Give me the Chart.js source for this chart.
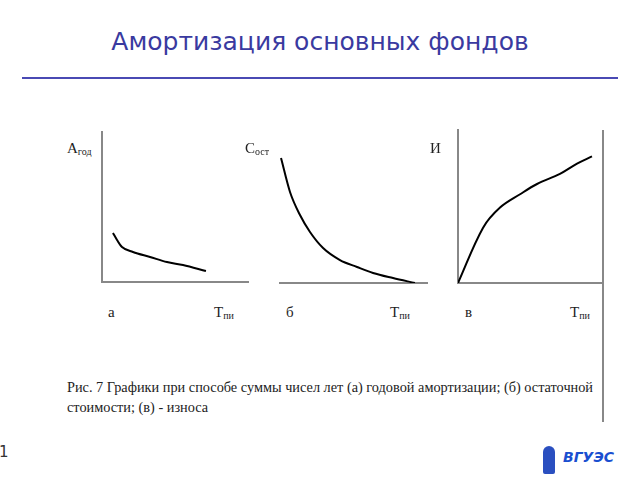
<!DOCTYPE html>
<html>
<head>
<meta charset="utf-8">
<script src="https://cdn.jsdelivr.net/npm/chart.js@4/dist/chart.umd.min.js"></script>
<style>
  body { margin:0; background:#fff; width:640px; height:480px; position:relative; overflow:hidden; }
  .abs { position:absolute; }
  #title { left:0; width:640px; top:27px; text-align:center; font-family:"DejaVu Sans"; font-size:25px; color:#3a3aa0; }
  #rule { left:22px; top:77px; width:596px; height:2px; background:#4a4ab4; }
  .box { position:absolute; }
  .lbl { position:absolute; font-family:"Liberation Serif", serif; font-size:15px; color:#222; }
  .lbl sub { font-size:10px; vertical-align:-2px; }
  #caption { left:67px; top:377px; font-family:"Liberation Serif", serif; font-size:14.3px; color:#222; line-height:20px; }
  #vline { left:602px; top:130px; width:2px; height:292px; background:#888; }
  #num { left:-1px; top:443px; font-family:"DejaVu Sans"; font-size:15px; color:#333; }
  #logo { left:563px; top:449px; font-family:"DejaVu Sans"; font-style:italic; font-weight:bold; font-size:14px; color:#1a4fd0; }
  #logomark { left:543px; top:446px; width:12px; height:28px; border-radius:6px 6px 2px 2px; background:#2a4fc0; }
</style>
</head>
<body>
<div id="title" class="abs">Амортизация основных фондов</div>
<div id="rule" class="abs"></div>

<div class="box" style="left:100px; top:130px; width:150px; height:154px;"><canvas id="chartA"></canvas></div>
<div class="box" style="left:278px; top:131px; width:151px; height:154px;"><canvas id="chartB"></canvas></div>
<div class="box" style="left:456px; top:128px; width:149px; height:157px;"><canvas id="chartC"></canvas></div>

<div class="lbl" style="left:67px; top:140px;">A<sub>год</sub></div>
<div class="lbl" style="left:245px; top:140px;">C<sub>ост</sub></div>
<div class="lbl" style="left:430px; top:140px;">И</div>
<div class="lbl" style="left:108px; top:304px;">а</div>
<div class="lbl" style="left:214px; top:304px;">T<sub>пи</sub></div>
<div class="lbl" style="left:286px; top:304px;">б</div>
<div class="lbl" style="left:390px; top:304px;">T<sub>пи</sub></div>
<div class="lbl" style="left:465px; top:304px;">в</div>
<div class="lbl" style="left:570px; top:304px;">T<sub>пи</sub></div>

<div id="vline" class="abs"></div>
<div id="caption" class="abs">Рис. 7 Графики при способе суммы чисел лет (а) годовой амортизации; (б) остаточной<br>стоимости; (в) - износа</div>
<div id="num" class="abs">1</div>
<div id="logomark" class="abs"></div>
<div id="logo" class="abs">ВГУЭС</div>

<script>
// (а) annual depreciation
const aX = [0.75, 1.03, 1.37, 2.12, 3.29, 4.45, 5.55, 7.12];
const aY = [3.27, 2.8, 2.33, 2.0, 1.67, 1.33, 1.13, 0.73];
// (б) residual value
const bX = [0.07, 0.68, 1.36, 2.04, 2.93, 4.08, 5.24, 6.33, 7.69, 9.18];
const bY = [8.33, 6.07, 4.53, 3.4, 2.33, 1.53, 1.07, 0.67, 0.33, 0.0];
// (в) wear
const cX = [0.0, 1.72, 2.9, 4.28, 5.45, 7.03, 8.21, 9.24];
const cY = [0.0, 3.6, 4.93, 5.8, 6.47, 7.13, 7.8, 8.27];

function pts(xs, ys) {
  return xs.map((x, i) => ({x: x, y: ys[i]}));
}

function makeChart(id, xs, ys, showY, tension) {
  const axis = (show, horiz) => ({
    type: 'linear', min: 0, max: 10,
    ticks: {display: false},
    grid: {display: false},
    border: {display: show, color: '#888', width: 2},
    // no room needed for ticks, so the plot fills the box
    afterFit: (s) => { if (horiz) s.height = 0; else s.width = 0; }
  });
  const ds = {
    data: pts(xs, ys),
    borderColor: '#000',
    borderWidth: 2,
    pointRadius: 0,
    fill: false
  };
  if (tension) ds.tension = tension; else ds.cubicInterpolationMode = 'monotone';
  return new Chart(document.getElementById(id), {
    type: 'line',
    data: {datasets: [ds]},
    options: {
      responsive: true,
      maintainAspectRatio: false,
      animation: false,
      layout: {padding: 2},
      plugins: {legend: {display: false}, tooltip: {enabled: false}},
      scales: {x: axis(true, true), y: axis(showY, false)}
    }
  });
}

makeChart('chartA', aX, aY, true);
makeChart('chartB', bX, bY, false);
makeChart('chartC', cX, cY, true, 0.35);
</script>
</body>
</html>
